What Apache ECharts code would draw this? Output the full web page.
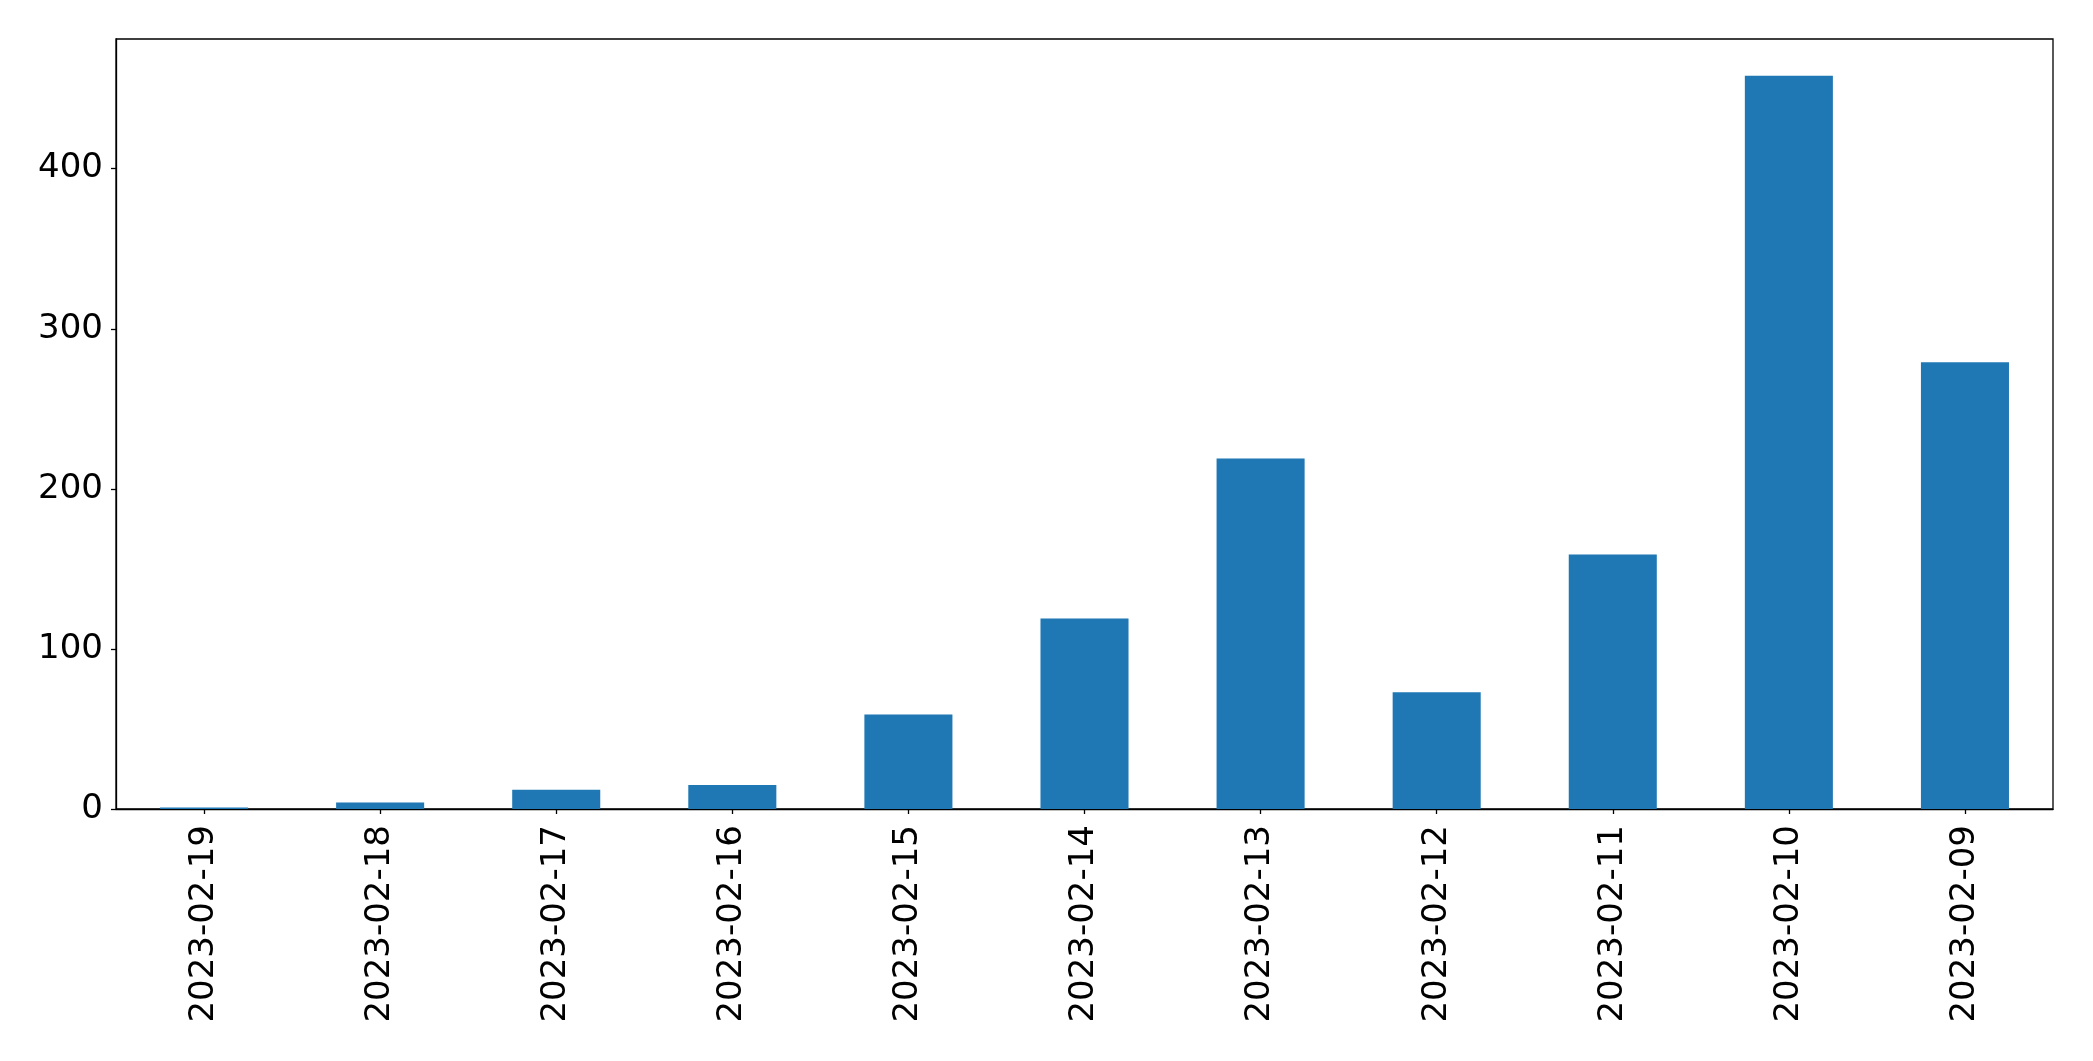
<!DOCTYPE html>
<html>
<head>
<meta charset="utf-8">
<script src="https://cdn.jsdelivr.net/npm/echarts@6/dist/echarts.min.js"></script>
<style>
html,body{margin:0;padding:0;background:#fff;}
#chart{width:2093px;height:1061px;}
</style>
</head>
<body>
<div id="chart"></div>
<script>
const categories = ['2023-02-19','2023-02-18','2023-02-17','2023-02-16','2023-02-15','2023-02-14','2023-02-13','2023-02-12','2023-02-11','2023-02-10','2023-02-09'];
const values = [1, 4, 12, 15, 59, 119, 219, 73, 159, 458, 279];
const yTicks = [0, 100, 200, 300, 400];
const yMax = 481;

const chart = echarts.init(document.getElementById('chart'), null, {renderer: 'canvas'});
chart.setOption({
  animation: false,
  backgroundColor: '#ffffff',
  grid: {
    left: 116, right: 40, top: 39, bottom: 252,
    show: true, borderColor: '#000000', borderWidth: 1.3, backgroundColor: 'transparent'
  },
  xAxis: {
    type: 'category',
    data: categories,
    axisLine: {show: true, lineStyle: {color: '#000000', width: 1.3}},
    axisTick: {show: true, alignWithLabel: true, length: 5, lineStyle: {color: '#000000', width: 1.3}},
    axisLabel: {
      rotate: 90, margin: 16, color: '#000000',
      fontFamily: 'DejaVu Sans', fontSize: 34, interval: 0
    },
    splitLine: {show: false}
  },
  yAxis: {
    type: 'value',
    min: 0, max: yMax, interval: 100,
    axisLine: {show: true, lineStyle: {color: '#000000', width: 1.3}},
    axisTick: {show: true, length: 5, lineStyle: {color: '#000000', width: 1.3}, customValues: yTicks},
    axisLabel: {
      margin: 13, color: '#000000', fontFamily: 'DejaVu Sans', fontSize: 34,
      padding: [5, 0, 0, 0],
      customValues: yTicks
    },
    splitLine: {show: false}
  },
  series: [{
    type: 'bar',
    data: values,
    barWidth: '50%',
    itemStyle: {color: '#1f77b4'}
  }]
});
</script>
</body>
</html>
